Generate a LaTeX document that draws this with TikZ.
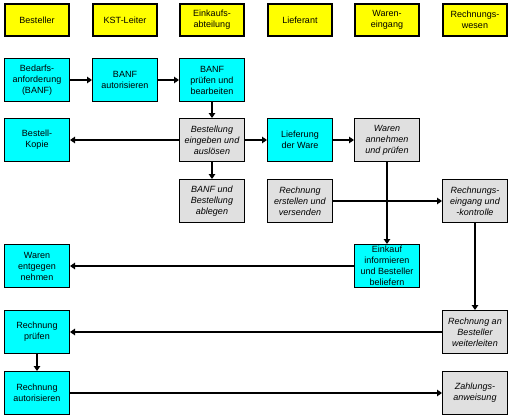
\documentclass[tikz,border=0pt]{standalone}
\usepackage{fontspec}
\setmainfont{Liberation Sans}
\usetikzlibrary{arrows.meta}
\definecolor{hdr}{HTML}{FFFF00}
\definecolor{act}{HTML}{00FFFF}
\definecolor{sys}{HTML}{E0E0E0}
\tikzset{
  hdrbox/.style={draw=black, line width=2pt, fill=hdr, minimum width=64pt, minimum height=32pt, inner sep=0pt, align=center, font=\fontsize{9}{11}\selectfont},
  actbox/.style={draw=black, line width=1pt, fill=act, minimum width=65pt, minimum height=43pt, inner sep=0pt, align=center, font=\fontsize{9}{11}\selectfont},
  sysbox/.style={draw=black, line width=1pt, fill=sys, minimum width=65pt, minimum height=43pt, inner sep=0pt, align=center, font=\fontsize{9}{11}\selectfont\itshape},
  flow/.style={line width=2pt, -{Triangle[length=5pt,width=6.5pt]}},
}
\begin{document}
\begin{tikzpicture}[x=1pt,y=-1pt]
\useasboundingbox[fill=white] (0,0) rectangle (512,416);
% headers
\node[hdrbox] (h1) at (37,20) {Besteller};
\node[hdrbox] (h2) at (125,20) {KST-Leiter};
\node[hdrbox] (h3) at (212,20) {Einkaufs-\\abteilung};
\node[hdrbox] (h4) at (300,20) {Lieferant};
\node[hdrbox] (h5) at (387,20) {Waren-\\eingang};
\node[hdrbox] (h6) at (475,20) {Rechnungs-\\wesen};
% row 1
\node[actbox] (bed) at (37,80) {Bedarfs-\\anforderung\\(BANF)};
\node[actbox] (aut) at (125,80) {BANF\\autorisieren};
\node[actbox] (pruef) at (212,80) {BANF\\prüfen und\\bearbeiten};
% row 2
\node[actbox] (kopie) at (37,140) {Bestell-\\Kopie};
\node[sysbox] (best) at (212,140) {Bestellung\\eingeben und\\auslösen};
\node[actbox] (lief) at (300,140) {Lieferung\\der Ware};
\node[sysbox] (wan) at (387,140) {Waren\\annehmen\\und prüfen};
% row 3
\node[sysbox] (abl) at (212,201) {BANF und\\Bestellung\\ablegen};
\node[sysbox] (rerst) at (300,201) {Rechnung\\erstellen und\\versenden};
\node[sysbox] (reing) at (475,201) {Rechnungs-\\eingang und\\-kontrolle};
% row 4
\node[actbox] (went) at (37,266) {Waren\\entgegen\\nehmen};
\node[actbox] (einf) at (387,266) {Einkauf\\informieren\\und Besteller\\beliefern};
% row 5
\node[actbox] (rpr) at (37,332) {Rechnung\\prüfen};
\node[sysbox] (rweit) at (475,332) {Rechnung an\\Besteller\\weiterleiten};
% row 6
\node[actbox] (raut) at (37,393) {Rechnung\\autorisieren};
\node[sysbox] (zahl) at (475,393) {Zahlungs-\\anweisung};
% connectors
\draw[flow] (bed) -- (aut);
\draw[flow] (aut) -- (pruef);
\draw[flow] (pruef) -- (best);
\draw[flow] (best) -- (kopie);
\draw[flow] (best) -- (lief);
\draw[flow] (lief) -- (wan);
\draw[flow] (best) -- (abl);
\draw[flow] (wan) -- (einf);
\draw[flow] (rerst) -- (reing);
\draw[flow] (einf) -- (went);
\draw[flow] (reing) -- (rweit);
\draw[flow] (rweit) -- (rpr);
\draw[flow] (rpr) -- (raut);
\draw[flow] (raut) -- (zahl);
\end{tikzpicture}
\end{document}
